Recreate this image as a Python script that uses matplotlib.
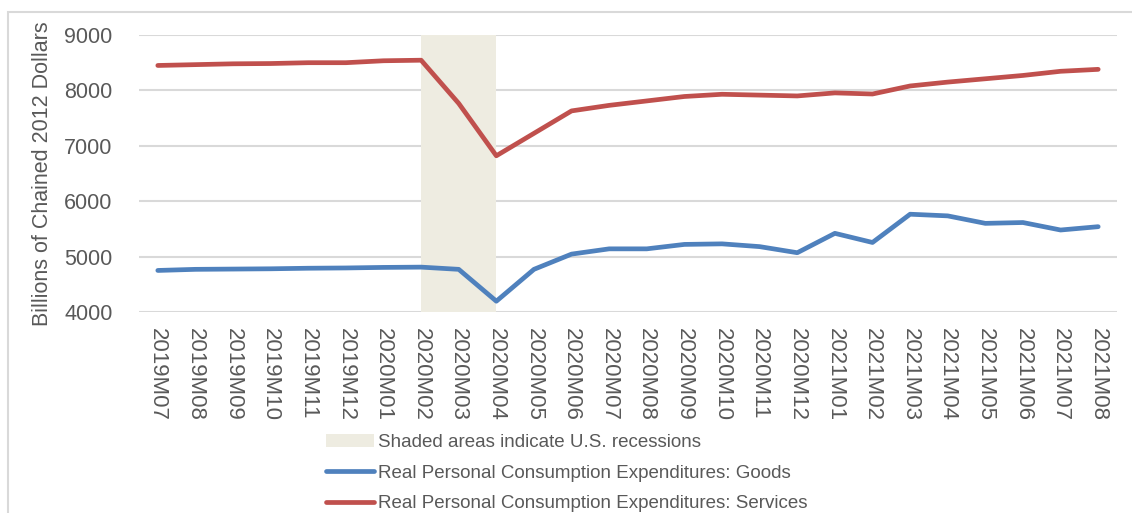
import matplotlib
matplotlib.use("Agg")
import matplotlib.pyplot as plt
from matplotlib.patches import Patch, Rectangle
from matplotlib.lines import Line2D
from matplotlib import font_manager

names = {f.name for f in font_manager.fontManager.ttflist}
fam = 'Liberation Sans Narrow' if 'Liberation Sans Narrow' in names else 'Liberation Sans'
plt.rcParams['font.family'] = [fam, 'DejaVu Sans']

months = ["2019M07", "2019M08", "2019M09", "2019M10", "2019M11", "2019M12",
          "2020M01", "2020M02", "2020M03", "2020M04", "2020M05", "2020M06",
          "2020M07", "2020M08", "2020M09", "2020M10", "2020M11", "2020M12",
          "2021M01", "2021M02", "2021M03", "2021M04", "2021M05", "2021M06",
          "2021M07", "2021M08"]
goods = [4750, 4770, 4775, 4780, 4790, 4795, 4805, 4810, 4770, 4195, 4770, 5045,
         5140, 5140, 5220, 5230, 5180, 5070, 5420, 5255, 5765, 5735, 5600, 5615,
         5480, 5540]
services = [8450, 8465, 8480, 8485, 8500, 8500, 8535, 8545, 7765, 6820, 7225, 7630,
            7730, 7810, 7890, 7930, 7915, 7900, 7955, 7935, 8080, 8150, 8210, 8270,
            8345, 8380]
recession_start = "2020M02"
recession_end = "2020M04"
yticks = [4000, 5000, 6000, 7000, 8000, 9000]

text_color = '#595959'
grid_color = '#d9d9d9'

fig = plt.figure(figsize=(11.32, 5.13), dpi=100)
ax = fig.add_axes([139/1132, 1-312/513, (1117-139)/1132, (312-35)/513])

x = list(range(len(months)))
i0, i1 = months.index(recession_start), months.index(recession_end)
ax.axvspan(i0, i1, color='#eeece1', zorder=1, lw=0)
ax.plot(x, goods, color='#4f81bd', lw=3.4, solid_capstyle='round', zorder=3)
ax.plot(x, services, color='#c0504d', lw=3.4, solid_capstyle='round', zorder=3)

ax.set_xlim(-0.5, len(months) - 0.5)
ax.set_ylim(4000, 9000)
ax.set_yticks(yticks)
ax.set_xticks(x)
ax.set_xticklabels(months, rotation=270, fontsize=16, color=text_color)
ax.tick_params(axis='x', length=0, pad=11.5)
ax.tick_params(axis='y', length=0, pad=19, labelsize=15.5, labelcolor=text_color)
ax.grid(axis='y', color=grid_color, lw=1.5, zorder=0)
ax.set_axisbelow(True)
for s in ax.spines.values():
    s.set_visible(False)
ax.set_ylabel('Billions of Chained 2012 Dollars', fontsize=15.5, color=text_color)
ax.yaxis.set_label_coords((53 - 139) / (1117 - 139), 0.5)

handles = [Patch(facecolor='#eeece1', edgecolor='none'),
           Line2D([], [], color='#4f81bd', lw=3.4, solid_capstyle='round'),
           Line2D([], [], color='#c0504d', lw=3.4, solid_capstyle='round')]
labels = ['Shaded areas indicate U.S. recessions',
          'Real Personal Consumption Expenditures: Goods',
          'Real Personal Consumption Expenditures: Services']
leg = fig.legend(handles, labels, loc='upper left', bbox_to_anchor=(326/1132, 1-434/513),
                 frameon=False, fontsize=13.5, handlelength=2.56, handletextpad=0.2,
                 labelspacing=0.72, borderaxespad=0, borderpad=0)
for t in leg.get_texts():
    t.set_color(text_color)

fig.patches.append(Rectangle((8/1132, -0.1), 1.2, 1-12/513+0.1, transform=fig.transFigure,
                             fill=False, edgecolor=grid_color, lw=1.5))

fig.savefig('out.png', dpi=100)
